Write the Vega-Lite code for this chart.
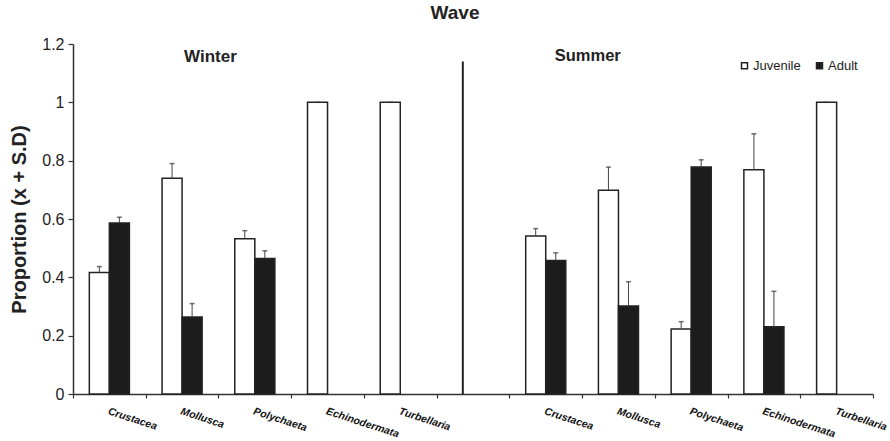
{
  "$schema": "https://vega.github.io/schema/vega-lite/v6.json",
  "autosize": {"type": "none"},
  "padding": {"left": 73, "top": 44, "right": 17, "bottom": 47},
  "width": 800,
  "height": 350,
  "background": "white",
  "title": {"text": "Wave", "font": "Liberation Sans", "fontSize": 19, "fontWeight": "bold", "color": "#222", "anchor": "middle", "frame": "group", "dx": -18, "offset": 13},
  "config": {"view": {"stroke": null}, "axis": {"grid": false}},
  "datasets": {
    "bars": [
      {"slot": "W-Crustacea", "stage": "Juvenile", "value": 0.417, "upper": 0.437},
      {"slot": "W-Crustacea", "stage": "Adult", "value": 0.586, "upper": 0.606},
      {"slot": "W-Mollusca", "stage": "Juvenile", "value": 0.74, "upper": 0.79},
      {"slot": "W-Mollusca", "stage": "Adult", "value": 0.264, "upper": 0.31},
      {"slot": "W-Polychaeta", "stage": "Juvenile", "value": 0.532, "upper": 0.56},
      {"slot": "W-Polychaeta", "stage": "Adult", "value": 0.465, "upper": 0.491},
      {"slot": "W-Echinodermata", "stage": "Juvenile", "value": 1.0, "upper": 1.0},
      {"slot": "W-Turbellaria", "stage": "Juvenile", "value": 1.0, "upper": 1.0},
      {"slot": "S-Crustacea", "stage": "Juvenile", "value": 0.542, "upper": 0.567},
      {"slot": "S-Crustacea", "stage": "Adult", "value": 0.458, "upper": 0.484},
      {"slot": "S-Mollusca", "stage": "Juvenile", "value": 0.699, "upper": 0.778},
      {"slot": "S-Mollusca", "stage": "Adult", "value": 0.302, "upper": 0.385},
      {"slot": "S-Polychaeta", "stage": "Juvenile", "value": 0.223, "upper": 0.248},
      {"slot": "S-Polychaeta", "stage": "Adult", "value": 0.778, "upper": 0.803},
      {"slot": "S-Echinodermata", "stage": "Juvenile", "value": 0.769, "upper": 0.892},
      {"slot": "S-Echinodermata", "stage": "Adult", "value": 0.231, "upper": 0.352},
      {"slot": "S-Turbellaria", "stage": "Juvenile", "value": 1.0, "upper": 1.0}
    ],
    "seasons": [
      {"slot": "W-Mollusca", "label": "Winter", "y": 1.155},
      {"slot": "S-Crustacea", "label": "Summer", "y": 1.16}
    ],
    "divider": [
      {"slot": "G-", "y": 0, "y2": 1.14}
    ]
  },
  "encoding": {
    "x": {
      "field": "slot", "type": "nominal", "sort": null,
      "scale": {"domain": ["W-Crustacea", "W-Mollusca", "W-Polychaeta", "W-Echinodermata", "W-Turbellaria", "G-", "S-Crustacea", "S-Mollusca", "S-Polychaeta", "S-Echinodermata", "S-Turbellaria"], "paddingInner": 0, "paddingOuter": 0},
      "axis": {
        "title": null, "tickBand": "extent", "labelExpr": "split(datum.value, '-')[1]",
        "labelAngle": 18, "labelAlign": "left", "labelBaseline": "top", "labelPadding": 8,
        "labelFont": "Liberation Sans", "labelFontSize": 10.5, "labelFontWeight": "bold", "labelFontStyle": "italic",
        "labelColor": "#111", "domainColor": "#333", "domainWidth": 1.5, "tickColor": "#333", "tickSize": 4, "tickWidth": 1.2
      }
    }
  },
  "layer": [
    {
      "data": {"name": "bars"},
      "mark": {"type": "bar", "stroke": "#222", "strokeWidth": 1.5},
      "encoding": {
        "xOffset": {"field": "stage", "type": "nominal", "scale": {"domain": ["Juvenile", "Adult"], "paddingInner": 0, "paddingOuter": 0.815}},
        "y": {"field": "value", "type": "quantitative",
          "scale": {"domain": [0, 1.2], "nice": false, "zero": true},
          "axis": {"title": "Proportion (x + S.D)", "values": [0, 0.2, 0.4, 0.6, 0.8, 1, 1.2], "format": "~g",
            "titleFont": "Liberation Sans", "titleFontSize": 20, "titleFontWeight": "bold", "titleColor": "#222", "titlePadding": 12,
            "labelFont": "Liberation Sans", "labelFontSize": 16, "labelColor": "#222", "labelPadding": 4,
            "domainColor": "#333", "domainWidth": 1.5, "tickColor": "#333", "tickSize": 5, "tickWidth": 1.2}},
        "fill": {"field": "stage", "type": "nominal",
          "scale": {"domain": ["Juvenile", "Adult"], "range": ["white", "#1c1c1c"]},
          "legend": {"title": null, "orient": "none", "legendX": 665, "legendY": 15, "direction": "horizontal",
            "symbolType": "square", "symbolSize": 36, "symbolStrokeColor": "#222", "symbolStrokeWidth": 1.5,
            "labelFont": "Liberation Sans", "labelFontSize": 13, "labelColor": "#222", "labelOffset": 2, "columnPadding": 12}}
      }
    },
    {
      "data": {"name": "bars"},
      "mark": {"type": "rule", "color": "#444", "strokeWidth": 1},
      "encoding": {
        "xOffset": {"field": "stage", "type": "nominal", "scale": {"domain": ["Juvenile", "Adult"], "paddingInner": 0, "paddingOuter": 0.815}},
        "y": {"field": "value", "type": "quantitative"},
        "y2": {"field": "upper"}
      }
    },
    {
      "data": {"name": "bars"},
      "mark": {"type": "tick", "color": "#333", "size": 5, "thickness": 1.5},
      "encoding": {
        "xOffset": {"field": "stage", "type": "nominal", "scale": {"domain": ["Juvenile", "Adult"], "paddingInner": 0, "paddingOuter": 0.815}},
        "y": {"field": "upper", "type": "quantitative"}
      }
    },
    {
      "data": {"name": "seasons"},
      "transform": [{"filter": "datum.label === 'Winter'"}],
      "mark": {"type": "text", "align": "left", "baseline": "middle", "dx": 2, "font": "Liberation Sans", "fontSize": 17, "fontWeight": "bold", "color": "#222"},
      "encoding": {
        "y": {"field": "y", "type": "quantitative"},
        "text": {"field": "label"}
      }
    },
    {
      "data": {"name": "seasons"},
      "transform": [{"filter": "datum.label === 'Summer'"}],
      "mark": {"type": "text", "align": "left", "baseline": "middle", "dx": 9, "font": "Liberation Sans", "fontSize": 16.5, "fontWeight": "bold", "color": "#222"},
      "encoding": {
        "y": {"field": "y", "type": "quantitative"},
        "text": {"field": "label"}
      }
    },
    {
      "data": {"name": "divider"},
      "mark": {"type": "rule", "color": "#222", "strokeWidth": 2},
      "encoding": {
        "x": {"field": "slot", "type": "nominal", "bandPosition": 0.36},
        "y": {"field": "y", "type": "quantitative"},
        "y2": {"field": "y2"}
      }
    }
  ]
}
